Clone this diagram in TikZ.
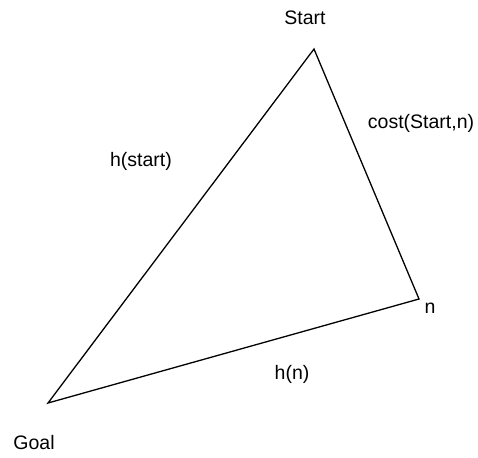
\documentclass[tikz,border=0pt]{standalone}
\usepackage{fontspec}
\setmainfont{Liberation Sans}
\usepackage{tikz}
\usetikzlibrary{positioning}

\tikzset{lbl/.style={font=\fontsize{19.5}{22}\selectfont, text=black, inner sep=0pt}}

\begin{document}
\begin{tikzpicture}[x=1pt, y=-1pt]
  \useasboundingbox (0,0) rectangle (478,457);

  \coordinate (s) at (314,49);
  \coordinate (n) at (419,299);
  \coordinate (g) at (48,403);

  \draw[line width=1.3pt, line join=miter] (s) -- (n) -- (g) -- cycle;

  \node[lbl] (slab) at (305,18)  {Start};
  \node[lbl] (nlab) at (430,308) {n};
  \node[lbl] (glab) at (34,443)  {Goal};
  \node[lbl] (clab) at (421,123) {cost(Start,n)};
  \node[lbl] (hlab) at (141,161) {h(start)};
  \node[lbl] (hnlab) at (292,374) {h(n)};
\end{tikzpicture}
\end{document}
